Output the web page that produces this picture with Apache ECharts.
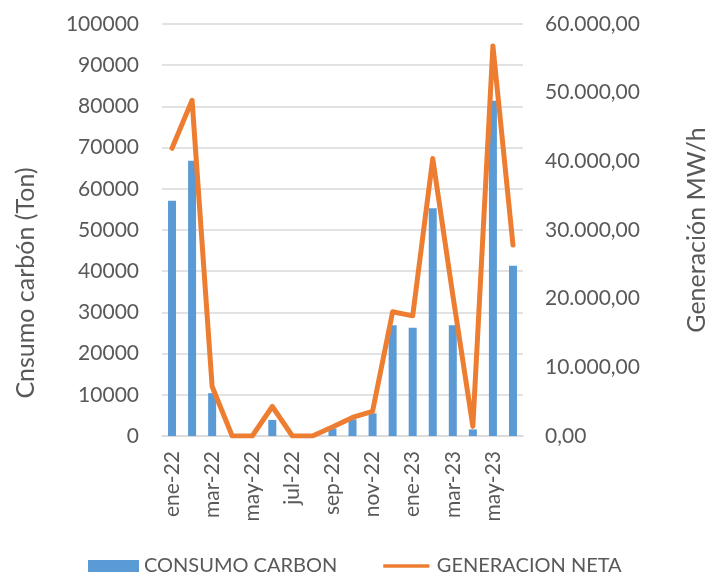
<!DOCTYPE html>
<html>
<head>
<meta charset="utf-8">
<script src="https://cdn.jsdelivr.net/npm/echarts@6/dist/echarts.min.js"></script>
<style>
  html, body { margin: 0; padding: 0; background: #fff; }
  #chart { width: 708px; height: 574px; }
</style>
</head>
<body>
<div id="chart"></div>
<script>
const meses = ['ene-22', 'feb-22', 'mar-22', 'abr-22', 'may-22', 'jun-22', 'jul-22', 'ago-22', 'sep-22',
  'oct-22', 'nov-22', 'dic-22', 'ene-23', 'feb-23', 'mar-23', 'abr-23', 'may-23', 'jun-23'];
const consumoCarbon = [57100, 66800, 10400, 0, 0, 3900, 0, 0, 1800,
  4050, 5500, 26900, 26300, 55300, 26900, 1600, 81400, 41300];
const generacionNeta = [41900, 48900, 7200, 0, 0, 4300, 0, 0, 1300,
  2700, 3600, 18100, 17500, 40400, 20500, 1400, 56800, 27800];
const ticksIzq = { min: 0, max: 100000, interval: 10000 };
const ticksDer = { min: 0, max: 60000, interval: 10000 };

const fuente = 'Lato';
const gris = '#595959';
const lineaGris = '#d9d9d9';

function formatoEs(v) {
  const ent = Math.round(v).toString().replace(/\B(?=(\d{3})+(?!\d))/g, '.');
  return ent + ',00';
}

// icono de linea para la leyenda (trazo fino centrado)
const iconoLinea = 'path://M0,0L0.01,0L0,0ZM0,4.5L50,4.5L50,8.5L0,8.5ZM0,13L0.01,13L0,13Z';

const chart = echarts.init(document.getElementById('chart'));
const option = {
  animation: false,
  textStyle: { fontFamily: fuente },
  legend: {
    left: 88,
    top: 556,
    padding: 0,
    itemGap: 46,
    itemWidth: 51,
    itemHeight: 12,
    textStyle: { color: gris, fontSize: 20, fontFamily: fuente },
    data: [
      { name: 'CONSUMO CARBON', icon: 'rect' },
      { name: 'GENERACION NETA', icon: iconoLinea }
    ]
  },
  grid: { left: 162, right: 185, top: 24, bottom: 138, outerBoundsMode: 'none' },
  xAxis: {
    type: 'category',
    data: meses,
    axisLine: { lineStyle: { color: lineaGris, width: 1.5 } },
    axisTick: { interval: 1, length: 6, lineStyle: { color: lineaGris, width: 1.5 } },
    axisLabel: { interval: 1, rotate: 90, margin: 15, color: gris, fontSize: 21, fontFamily: fuente }
  },
  yAxis: [
    {
      type: 'value',
      min: ticksIzq.min, max: ticksIzq.max, interval: ticksIzq.interval,
      name: 'Cnsumo carbón (Ton)',
      nameLocation: 'middle',
      nameGap: 124,
      nameTextStyle: { color: gris, fontSize: 25, fontFamily: fuente, padding: [0, 106, 0, 0] },
      axisLine: { show: false },
      axisTick: { show: false },
      axisLabel: { margin: 23, color: gris, fontSize: 21, fontFamily: fuente, formatter: v => String(v) },
      splitLine: { lineStyle: { color: lineaGris, width: 1.5 } }
    },
    {
      type: 'value',
      min: ticksDer.min, max: ticksDer.max, interval: ticksDer.interval,
      name: 'Generación MW/h',
      nameLocation: 'middle',
      nameGap: 161,
      nameTextStyle: { color: gris, fontSize: 25, fontFamily: fuente },
      axisLine: { show: false },
      axisTick: { show: false },
      axisLabel: { margin: 22, color: gris, fontSize: 21, fontFamily: fuente, formatter: formatoEs },
      splitLine: { show: false }
    }
  ],
  series: [
    {
      name: 'CONSUMO CARBON',
      type: 'bar',
      yAxisIndex: 0,
      barWidth: 8,
      itemStyle: { color: '#5b9bd5' },
      data: consumoCarbon
    },
    {
      name: 'GENERACION NETA',
      type: 'line',
      yAxisIndex: 1,
      symbol: 'none',
      lineStyle: { color: '#ed7d31', width: 5, cap: 'round', join: 'round' },
      itemStyle: { color: '#ed7d31' },
      data: generacionNeta
    }
  ]
};
chart.setOption(option);
</script>
</body>
</html>
